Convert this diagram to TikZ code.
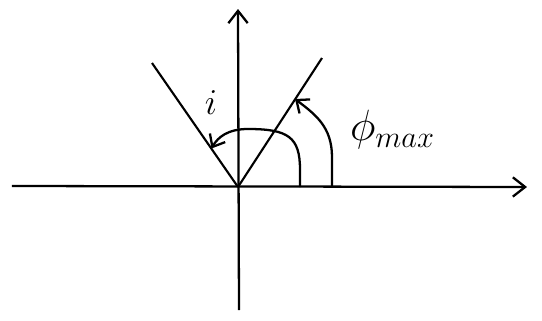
\documentclass[tikz,border=0pt]{standalone}
\usepackage{amsmath}
\usetikzlibrary{arrows.meta,positioning}
\tikzset{
  axis/.style = {line width=1.3pt, -{Straight Barb[length=7pt,width=11pt,line width=1.3pt]}},
  ray/.style = {line width=1.2pt},
  angle/.style = {line width=1.3pt, -{Straight Barb[length=6pt,width=10pt,line width=1.3pt]}},
  lbl/.style = {inner sep=1pt}
}
\begin{document}
\begin{tikzpicture}
  \useasboundingbox (-4.76,-2.66) rectangle (6.08,3.74);
  \coordinate (O) at (0,0);
  \coordinate (xl) at (-4.52,0.02);
  \coordinate (xr) at (5.78,0);
  \coordinate (yb) at (0.02,-2.46);
  \coordinate (yt) at (0,3.56);
  \coordinate (R) at (1.68,2.58);
  \coordinate (L) at (-1.72,2.48);
  \coordinate (i0) at (1.24,0);
  \coordinate (i1) at (-0.53,0.77);
  \coordinate (p0) at (1.88,0);
  \coordinate (p1) at (1.14,1.76);
  \node[lbl] (il) at (-0.54,1.68) {\fontsize{22}{24}\selectfont $i$};
  \node[lbl, anchor=west] (pl) at (2.2,1.14) {\fontsize{27}{29}\selectfont $\phi_{max}$};
  \draw[axis] (xl) -- (xr);
  \draw[axis] (yb) -- (yt);
  \draw[ray] (O) -- (R);
  \draw[ray] (O) -- (L);
  \draw[angle] (i0) -- ++(0,0.35) .. controls (1.24,1.0) and (1.0,1.16) .. (0.2,1.16)
    .. controls (-0.2,1.16) and (-0.4,1.0) .. (i1);
  \draw[angle] (p0) -- ++(0,0.6) .. controls (1.88,1.2) and (1.55,1.45) .. (p1);
\end{tikzpicture}
\end{document}
